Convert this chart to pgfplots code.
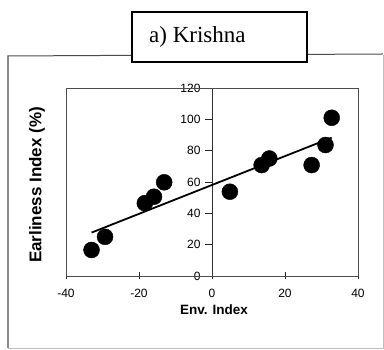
\documentclass[border=0pt]{standalone}
\usepackage{pgfplots}
\pgfplotsset{compat=1.18}
\usepackage{fontspec}
\setmainfont{Liberation Sans}
\newfontfamily\timesfont{Liberation Serif}
\begin{document}
\begin{tikzpicture}[x=1pt,y=1pt]
\useasboundingbox (0,0) rectangle (384,350);
% outer frame
\draw[line width=0.6pt, black!25] (8,2) -- (383,2) -- (383,295);
\draw[line width=1pt, black!70] (8,2) -- (8,294) -- (383,296);
% title box
\draw[fill=white, line width=1.3pt] (132,288) rectangle (307,338);
\node[anchor=base west, inner sep=0pt] at (149,307) {\timesfont\fontsize{23}{26}\selectfont a) Krishna};
\begin{axis}[
  at={(66pt,74pt)}, anchor=south west,
  scale only axis, width=292pt, height=188pt,
  axis x line=middle, axis y line=middle,
  xmin=-40, xmax=40, ymin=0, ymax=120,
  xtick={-40,-20,0,20,40}, ytick={0,20,...,120},
  hide obscured x ticks=false, hide obscured y ticks=false,
  xtick align=center, ytick align=outside,
  major tick length=7pt,
  axis line style={line width=0.9pt, black!80, -},
  major tick style={line width=0.9pt, draw=black!85},
  tick label style={font=\fontsize{12}{14}\selectfont, text=black},
  xticklabel style={yshift=-6pt},
  yticklabel style={xshift=-1pt},
  /pgf/number format/assume math mode=true,
  clip=false,
]
\draw[line width=0.8pt, black!70] (rel axis cs:0,0) rectangle (rel axis cs:1,1);
\addplot[black, line width=1.8pt, mark=none] coordinates {(-33,27.7) (32.8,88.3)};
\addplot[only marks, mark=*, mark size=8pt, black] coordinates {
(-33,16.6) (-29.3,25) (-18.4,46.5) (-15.9,50.6) (-13.1,59.8)
(4.9,53.8) (13.6,70.8) (15.7,75) (27.3,70.8) (31.1,83.6) (32.8,101)
};
\end{axis}
\node[font=\bfseries\fontsize{13.5}{15}\selectfont] at (214,40) {Env. Index};
\node[rotate=90, font=\bfseries\fontsize{17}{19}\selectfont] at (37,165) {Earliness Index (\%)};
\end{tikzpicture}
\end{document}
